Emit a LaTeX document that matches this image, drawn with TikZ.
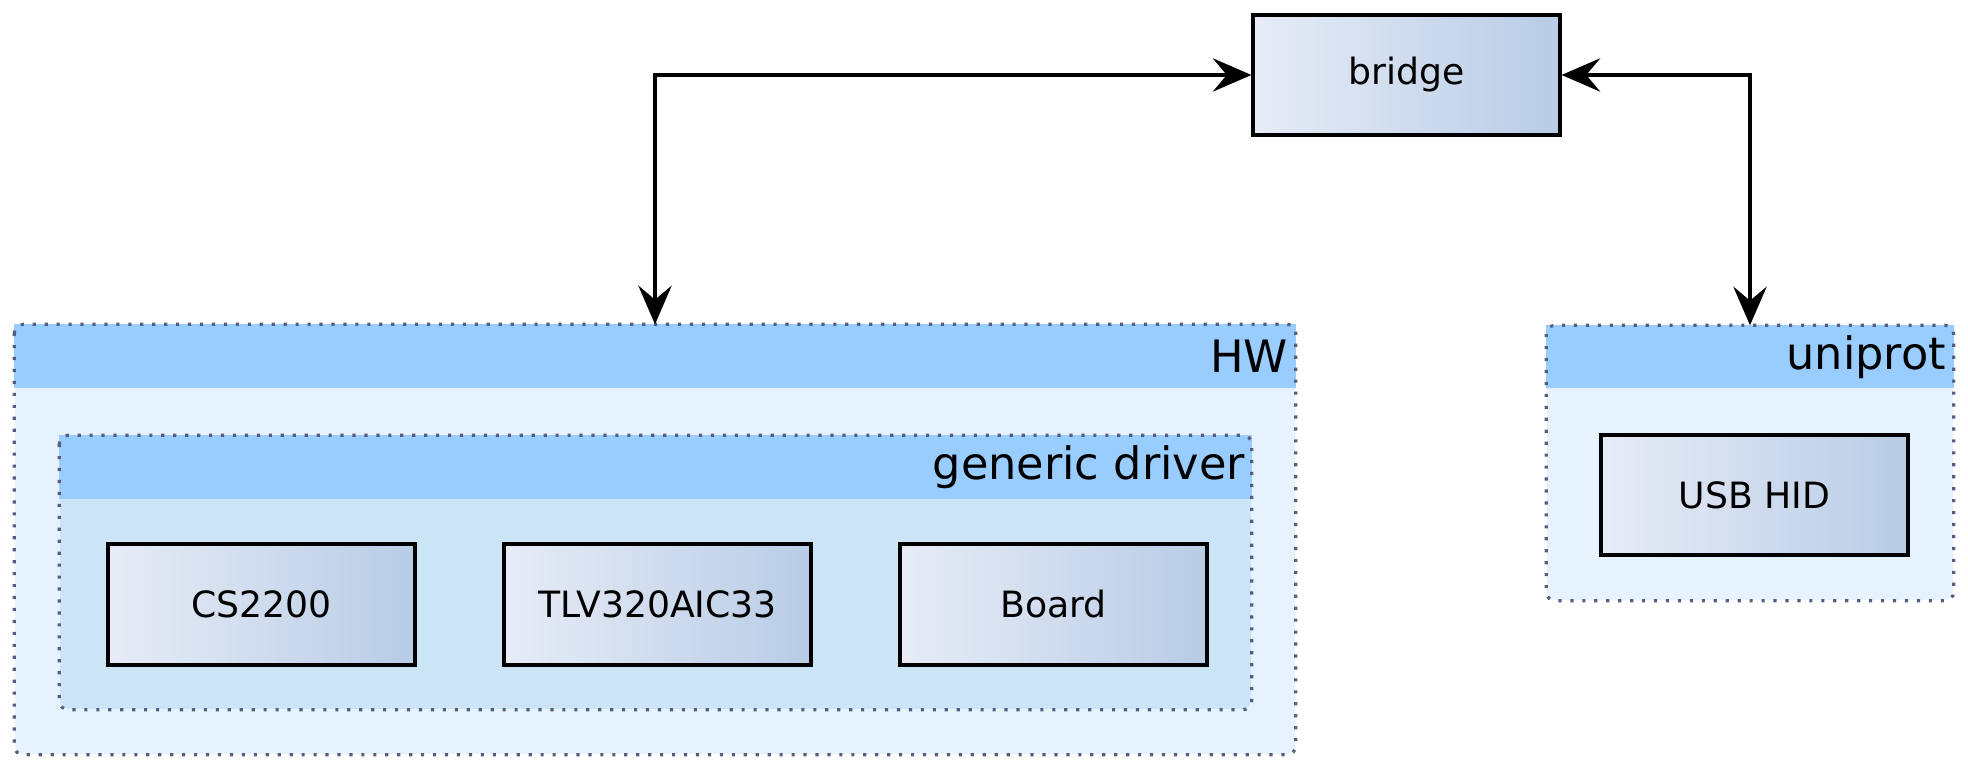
\documentclass[tikz,border=0pt]{standalone}
\usepackage{fontspec}
\setmainfont{DejaVu Sans}
\usetikzlibrary{shapes}
\usetikzlibrary{calc}
\usetikzlibrary{arrows.meta}

\definecolor{hdrblue}{RGB}{153,204,255}
\definecolor{outerfill}{RGB}{230,243,254}
\definecolor{innerfill}{RGB}{204,229,246}
\definecolor{dotgray}{RGB}{85,95,125}
\definecolor{modleft}{RGB}{231,236,246}
\definecolor{modright}{RGB}{184,204,230}

\tikzset{
  module/.style={draw, rectangle, line width=0.9pt, left color=modleft, right color=modright,
    minimum width=3.07cm, minimum height=1.21cm, font=\fontsize{10.3}{12}\selectfont},
  group/.style={rectangle, rounded corners=2.5pt, inner sep=0pt},
  dotborder/.style={draw=dotgray, line width=0.9pt, dash pattern=on 0.9pt off 2.5pt, rounded corners=2.5pt},
  grouptitle/.style={anchor=east, inner sep=0pt, font=\fontsize{12.7}{15}\selectfont},
  link/.style={<->, line width=0.9pt, >={Stealth[length=11pt, width=9.5pt, inset=4pt]}}
}

\begin{document}
\begin{tikzpicture}
  \useasboundingbox (0,0) rectangle (19.68,7.71);

  % HW group
  \node[group, fill=outerfill, minimum width=12.8cm, minimum height=4.29cm] (hw) at (6.55,2.315) {};
  \fill[hdrblue] (hw.north west) rectangle ($(hw.north east)+(0,-0.64)$);
  \draw[dotborder] (hw.north west) rectangle (hw.south east);
  \node[grouptitle] (hwtitle) at ($(hw.north east)+(-0.07,-0.32)$) {HW};

  % generic driver
  \node[group, fill=innerfill, minimum width=11.91cm, minimum height=2.73cm] (drv) at (6.555,1.985) {};
  \fill[hdrblue] (drv.north west) rectangle ($(drv.north east)+(0,-0.64)$);
  \draw[dotborder] (drv.north west) rectangle (drv.south east);
  \node[grouptitle] (drvtitle) at ($(drv.north east)+(-0.06,-0.32)$) {generic driver};

  \node[module] (cs) at (2.615,1.665) {CS2200};
  \node[module] (tlv) at (6.575,1.665) {TLV320AIC33};
  \node[module] (board) at (10.535,1.665) {Board};

  % uniprot group
  \node[group, fill=outerfill, minimum width=4.06cm, minimum height=2.74cm] (uniprot) at (17.5,3.08) {};
  \fill[hdrblue] (uniprot.north west) rectangle ($(uniprot.north east)+(0,-0.63)$);
  \draw[dotborder] (uniprot.north west) rectangle (uniprot.south east);
  \node[grouptitle] (unititle) at ($(uniprot.north east)+(-0.07,-0.315)$) {uniprot};

  \node[module, minimum height=1.2cm] (usbhid) at (17.545,2.76) {USB HID};

  % bridge
  \node[module, minimum height=1.2cm] (bridge) at (14.065,6.96) {bridge};

  \draw[link] (hw.north) |- (bridge.west);
  \draw[link] (bridge.east) -| (uniprot.north);
\end{tikzpicture}
\end{document}
